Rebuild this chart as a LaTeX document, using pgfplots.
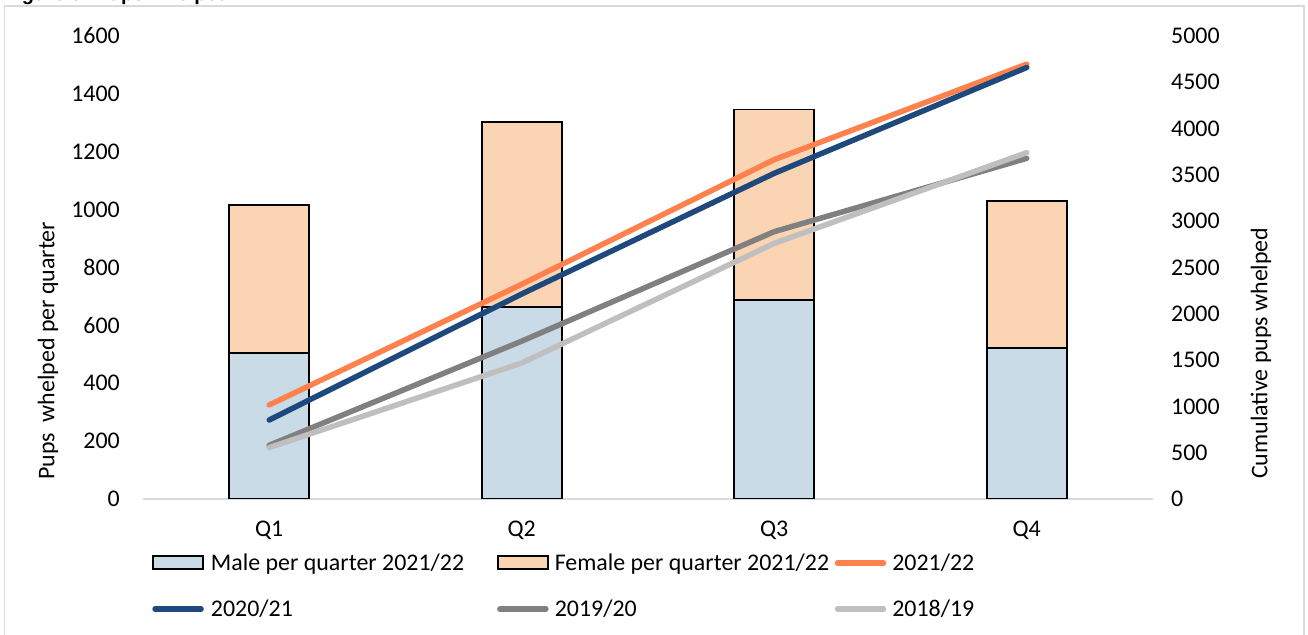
\documentclass[border=0pt]{standalone}
\usepackage{fontspec}
\setmainfont{Carlito}
\newfontfamily\titlefont{Liberation Sans}
\usepackage{pgfplots}
\pgfplotsset{compat=1.18}

\definecolor{maleblue}{RGB}{201,219,230}
\definecolor{femalepeach}{RGB}{251,212,180}
\definecolor{c2122}{RGB}{255,130,78}
\definecolor{c2021}{RGB}{31,73,125}
\definecolor{c1920}{RGB}{128,128,128}
\definecolor{c1819}{RGB}{191,191,191}
\definecolor{framegray}{RGB}{217,217,217}

\pgfplotsset{
  barleg/.style={legend image code/.code={\draw[##1, line width=1.8bp, draw=black] (1bp,-6.5bp) rectangle (51bp,6.5bp);}},
  lineleg/.style={legend image code/.code={\draw[##1, line cap=round] (3bp,0bp) -- (49bp,0bp);}},
  base/.style={
    at={(143bp,136bp)}, anchor=south west,
    scale only axis, width=1010bp, height=463bp,
    xmin=-0.5, xmax=3.5,
    font=\fontsize{24}{28}\selectfont,
    /pgf/number format/assume math mode=true,
    /pgf/number format/1000 sep={},
    major tick length=0bp,
  },
}

\begin{document}
\begin{tikzpicture}[x=1bp,y=1bp]
\useasboundingbox (0,0) rectangle (1308,635);
\clip (0,0) rectangle (1308,635);
\fill[white] (0,0) rectangle (1308,635);
\node[anchor=base west, inner sep=0pt, font=\titlefont\bfseries\fontsize{20}{24}\selectfont] at (4,634) {Figure 5: Pups whelped};
\draw[framegray, line width=1.5bp] (4.5,-5) -- (4.5,629) -- (1304,629) -- (1304,-5);

% Per-quarter bars on the left axis
\begin{axis}[base,
  ymin=0, ymax=1600, ytick={0,200,...,1600},
  xtick={0,1,2,3}, xticklabels={Q1,Q2,Q3,Q4},
  minor xtick={-0.5,0.5,1.5,2.5,3.5},
  minor tick length=7bp,
  tick align=outside,
  separate axis lines,
  axis x line*=bottom, axis y line*=left,
  y axis line style={draw=none},
  x axis line style={framegray, line width=1.5bp},
  ytick style={draw=none}, xtick style={draw=none},
  minor x tick style={framegray, line width=1.5bp},
  yticklabel style={anchor=east, inner sep=0pt, xshift=-23bp},
  xticklabel style={anchor=north, inner sep=0pt, yshift=-22bp},
  ylabel={Pups\ \ whelped per quarter},
  ylabel style={at={(axis description cs:-0.094,0.32)}, anchor=center},
  ybar stacked, bar width=0.317,
]
\addplot[fill=maleblue, draw=black, line width=1.8bp] coordinates {(0,505) (1,663) (2,688) (3,522)};
\addplot[fill=femalepeach, draw=black, line width=1.8bp] coordinates {(0,511) (1,640) (2,658) (3,509)};
\end{axis}

% Cumulative totals on the right axis
\begin{axis}[base,
  ymin=0, ymax=5000, ytick={0,500,...,5000},
  axis x line=none, axis y line*=right,
  y axis line style={draw=none}, ytick style={draw=none},
  yticklabel style={anchor=west, inner sep=0pt, xshift=18bp},
  ylabel={Cumulative pups whelped},
  ylabel style={at={(axis description cs:1.107,0.315)}, anchor=center},
  legend columns=3,
  legend cell align=left,
  legend style={at={(axis description cs:0.0089,-0.118)}, anchor=north west,
    draw=none, fill=none, inner sep=0pt, column sep=0pt, row sep=28bp,
    nodes={inner sep=0pt},
    font=\fontsize{24}{28}\selectfont},
]
\addlegendimage{barleg, fill=maleblue, draw=black}
\addlegendentry{\hspace*{7bp}\makebox[286bp][l]{Male per quarter 2021/22}}
\addlegendimage{barleg, fill=femalepeach, draw=black}
\addlegendentry{\hspace*{6bp}\makebox[280bp][l]{Female per quarter 2021/22}}
\addplot[lineleg, c2122, line width=5.5bp, line cap=round, line join=round] coordinates {(0,1016) (1,2319) (2,3665) (3,4696)};
\addlegendentry{\hspace*{6bp}\makebox[90bp][l]{2021/22}}
\addplot[lineleg, c2021, line width=5.5bp, line cap=round, line join=round] coordinates {(0,853) (1,2214) (2,3517) (3,4660)};
\addlegendentry{\hspace*{7bp}\makebox[286bp][l]{2020/21}}
\addplot[lineleg, c1920, line width=5.5bp, line cap=round, line join=round] coordinates {(0,580) (1,1705) (2,2887) (3,3679)};
\addlegendentry{\hspace*{6bp}\makebox[280bp][l]{2019/20}}
\addplot[lineleg, c1819, line width=5.5bp, line cap=round, line join=round] coordinates {(0,555) (1,1469) (2,2761) (3,3740)};
\addlegendentry{\hspace*{6bp}\makebox[90bp][l]{2018/19}}
\end{axis}
\end{tikzpicture}
\end{document}
